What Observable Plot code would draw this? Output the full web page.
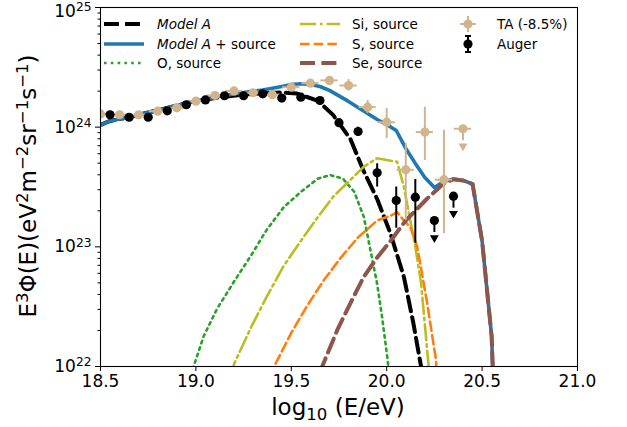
<!DOCTYPE html>
<html><head><meta charset="utf-8">
<script src="https://cdn.jsdelivr.net/npm/d3@7"></script>
<script src="https://cdn.jsdelivr.net/npm/@observablehq/plot@0.6"></script>
<style>
body{margin:0;background:#fff;}
#chart{position:relative;width:627px;height:427px;font-family:"DejaVu Sans",sans-serif;}
</style></head><body><div id="chart"></div>
<script>
// ---- model curves: log10(E/eV) and E^3 Phi(E) ----
const modelA_E = [18.5, 18.55, 18.65, 18.75, 18.85, 18.95, 19.05, 19.15, 19.25, 19.35, 19.45, 19.53, 19.64, 19.72, 19.81, 19.88, 19.95, 20.02, 20.09, 20.14, 20.18, 20.22];
const modelA_J = [1.042e24, 1.127e24, 1.211e24, 1.327e24, 1.445e24, 1.592e24, 1.706e24, 1.799e24, 1.871e24, 1.919e24, 1.95e24, 1.91e24, 1.66e24, 1.26e24, 7.94e23, 4.27e23, 2.51e23, 1.29e23, 5.62e22, 2.29e22, 1.0e22, 4.0e21];

const total_E = [18.5, 18.55, 18.65, 18.75, 18.85, 18.95, 19.05, 19.15, 19.25, 19.35, 19.45, 19.5, 19.55, 19.6, 19.65, 19.7, 19.75, 19.8, 19.85, 19.9, 19.95, 20.0, 20.05, 20.1, 20.15, 20.2, 20.25, 20.3, 20.35, 20.4, 20.45, 20.5, 20.55, 20.6];
const total_J = [1.042e24, 1.127e24, 1.211e24, 1.327e24, 1.445e24, 1.592e24, 1.722e24, 1.841e24, 1.950e24, 2.046e24, 2.188e24, 2.275e24, 2.307e24, 2.275e24, 2.188e24, 2.028e24, 1.824e24, 1.641e24, 1.462e24, 1.300e24, 1.159e24, 1.054e24, 9.38e23, 6.64e23, 4.98e23, 3.80e23, 3.13e23, 3.52e23, 3.69e23, 3.59e23, 3.35e23, 1.12e23, 1.78e22, 1e20];

const O_E = [18.95, 18.99, 19.04, 19.11, 19.2, 19.29, 19.37, 19.46, 19.55, 19.64, 19.705, 19.77, 19.83, 19.88, 19.915, 19.95, 19.976, 20.003, 20.03];
const O_J = [5.0e21, 1.02e22, 1.78e22, 3.02e22, 5.13e22, 8.51e22, 1.38e23, 2.14e23, 2.88e23, 3.72e23, 3.98e23, 3.72e23, 2.88e23, 1.78e23, 9.33e22, 4.90e22, 2.57e22, 1.20e22, 5.0e21];

const Si_E = [19.15, 19.2, 19.29, 19.37, 19.46, 19.55, 19.64, 19.72, 19.81, 19.88, 19.95, 20.055, 20.09, 20.12, 20.15, 20.18, 20.2, 20.22, 20.24];
const Si_J = [5.0e21, 1.05e22, 2.14e22, 3.80e22, 6.92e22, 1.12e23, 1.78e23, 2.63e23, 3.63e23, 4.68e23, 5.50e23, 5.13e23, 3.16e23, 1.78e23, 1.0e23, 5.0e22, 2.24e22, 1.0e22, 5.0e21];

const S_E = [19.35, 19.41, 19.5, 19.58, 19.67, 19.76, 19.85, 19.95, 20.02, 20.055, 20.09, 20.125, 20.16, 20.21, 20.256, 20.28];
const S_J = [5.0e21, 1.0e22, 1.91e22, 3.16e22, 5.25e22, 8.13e22, 1.20e23, 1.66e23, 1.82e23, 1.95e23, 1.66e23, 1.45e23, 1.0e23, 3.55e22, 1.20e22, 5.0e21];

const Se_E = [19.6, 19.662, 19.74, 19.81, 19.88, 19.95, 20.02, 20.1, 20.21, 20.3, 20.35, 20.4, 20.45, 20.5, 20.55, 20.6];
const Se_J = [4.0e21, 1.0e22, 2.0e22, 3.39e22, 5.62e22, 8.13e22, 1.12e23, 1.66e23, 2.51e23, 3.39e23, 3.67e23, 3.59e23, 3.35e23, 1.12e23, 1.78e22, 1e20];

// ---- data points ----
const auger_E  = [18.55, 18.65, 18.75, 18.85, 18.95, 19.05, 19.15, 19.25, 19.35, 19.45, 19.55, 19.65, 19.75, 19.85, 19.95, 20.05, 20.15, 20.25, 20.35];
const auger_J  = [1.27e24, 1.21e24, 1.21e24, 1.37e24, 1.54e24, 1.69e24, 1.83e24, 1.83e24, 1.90e24, 1.75e24, 1.78e24, 1.67e24, 1.09e24, 9.2e23, 4.16e23, 2.44e23, 2.6e23, 1.66e23, 2.65e23];
const auger_lo = [null, null, null, null, null, null, null, null, null, null, null, null, 1.04e24, 8.4e23, 3.16e23, 1.43e23, 1.07e23, null, null];
const auger_hi = [null, null, null, null, null, null, null, null, null, null, null, null, 1.14e24, 1.0e24, 4.94e23, 3.16e23, 3.66e23, null, null];
const auger_UL = [false, false, false, false, false, false, false, false, false, false, false, false, false, false, false, false, false, true, true];

const ta_E  = [18.5, 18.6, 18.7, 18.8, 18.9, 19.0, 19.1, 19.2, 19.3, 19.4, 19.5, 19.6, 19.7, 19.8, 19.9, 20.0, 20.1, 20.2, 20.3, 20.4];
const ta_J  = [1.29e24, 1.27e24, 1.27e24, 1.36e24, 1.45e24, 1.65e24, 1.84e24, 2.01e24, 1.94e24, 1.87e24, 2.16e24, 2.33e24, 2.46e24, 2.23e24, 1.47e24, 1.10e24, 4.4e23, 9.1e23, 3.64e23, 9.7e23];
const ta_lo = [null, null, null, null, null, null, null, null, null, null, 2.06e24, 2.2e24, 2.3e24, 2.0e24, 1.30e24, 8.05e23, 1.66e23, 5.27e23, 1.29e23, null];
const ta_hi = [null, null, null, null, null, null, null, null, null, null, 2.27e24, 2.45e24, 2.65e24, 2.5e24, 1.67e24, 1.43e24, 7.3e23, 1.47e24, 9.4e23, null];
const ta_UL = [false, false, false, false, false, false, false, false, false, false, false, false, false, false, false, false, false, false, false, true];
const ta_dE = 0.045;

// ---- axes ----
const xTicks = [18.5, 19.0, 19.5, 20.0, 20.5, 21.0];
const yMajor = [1e22, 1e23, 1e24, 1e25];
const yMinor = [22, 23, 24].flatMap(k => [2,3,4,5,6,7,8,9].map(m => m * 10 ** k));

const C = {black:"#000000", blue:"#1f77b4", green:"#2ca02c", olive:"#bcbd22", orange:"#ff7f0e", brown:"#8c564b", tan:"#d2b48c"};

const rows = (E, J) => E.map((e, i) => ({E: e, J: J[i]}));
const auger = auger_E.map((e, i) => ({E: e, J: auger_J[i], lo: auger_lo[i], hi: auger_hi[i], ul: auger_UL[i]}));
const ta = ta_E.map((e, i) => ({E: e, J: ta_J[i], lo: ta_lo[i], hi: ta_hi[i], ul: ta_UL[i]}));
const ulShaft = 10 ** 0.1, ulHead = 10 ** 0.095;

const triDown = {draw(ctx, size) {
  const y = Math.sqrt(size / (Math.sqrt(3) * 3));
  ctx.moveTo(0, 2 * y);
  ctx.lineTo(-Math.sqrt(3) * y, -y);
  ctx.lineTo(Math.sqrt(3) * y, -y);
  ctx.closePath();
}};

const plot = Plot.plot({
  width: 627, height: 427,
  marginLeft: 100, marginRight: 50, marginTop: 7, marginBottom: 61,
  style: {fontFamily: "DejaVu Sans", fontSize: "17px", color: "#000", background: "#fff"},
  x: {domain: [18.5, 21.0], label: null},
  y: {type: "log", domain: [1e22, 1e25], label: null},
  marks: [
    Plot.axisX({ticks: xTicks, tickFormat: d => d.toFixed(1), tickSize: 5, tickPadding: 3, label: null, fontSize: 17}),
    Plot.axisY({ticks: yMajor, tickFormat: d => "10^" + Math.round(Math.log10(d)), tickSize: 5, tickPadding: 4, label: null, fontSize: 17}),
    Plot.axisY({ticks: yMinor, tickFormat: () => "", tickSize: 2.5, label: null}),
    Plot.line(rows(modelA_E, modelA_J), {x: "E", y: "J", stroke: C.black, strokeWidth: 4, strokeDasharray: "15,6", clip: true}),
    Plot.line(rows(total_E, total_J), {x: "E", y: "J", stroke: C.blue, strokeWidth: 3.6, clip: true}),
    Plot.line(rows(O_E, O_J), {x: "E", y: "J", stroke: C.green, strokeWidth: 2.6, strokeDasharray: "2.6,4.2", clip: true}),
    Plot.line(rows(Si_E, Si_J), {x: "E", y: "J", stroke: C.olive, strokeWidth: 2.6, strokeDasharray: "16,4,2.6,4", clip: true}),
    Plot.line(rows(S_E, S_J), {x: "E", y: "J", stroke: C.orange, strokeWidth: 2.6, strokeDasharray: "9.5,4.2", clip: true}),
    Plot.line(rows(Se_E, Se_J), {x: "E", y: "J", stroke: C.brown, strokeWidth: 4, strokeDasharray: "15,6.4", clip: true}),
    // TA
    Plot.ruleY(ta, {y: "J", x1: d => d.E - ta_dE, x2: d => d.E + ta_dE, stroke: C.tan, strokeWidth: 2, clip: true}),
    Plot.ruleX(ta.filter(d => d.lo != null), {x: "E", y1: "lo", y2: "hi", stroke: C.tan, strokeWidth: 2, clip: true}),
    Plot.ruleX(ta.filter(d => d.ul), {x: "E", y1: "J", y2: d => d.J / ulShaft, stroke: C.tan, strokeWidth: 2, clip: true}),
    Plot.dot(ta.filter(d => d.ul), {x: "E", y: d => d.J / ulHead / 1.12, symbol: triDown, r: 3.3, fill: C.tan, stroke: null, clip: true}),
    Plot.dot(ta, {x: "E", y: "J", r: 4.6, fill: C.tan, stroke: null, clip: true}),
    // Auger
    Plot.ruleX(auger.filter(d => d.lo != null), {x: "E", y1: "lo", y2: "hi", stroke: C.black, strokeWidth: 2, clip: true}),
    Plot.ruleX(auger.filter(d => d.ul), {x: "E", y1: "J", y2: d => d.J / ulShaft, stroke: C.black, strokeWidth: 2, clip: true}),
    Plot.dot(auger.filter(d => d.ul), {x: "E", y: d => d.J / ulHead / 1.12, symbol: triDown, r: 3.3, fill: C.black, stroke: null, clip: true}),
    Plot.dot(auger, {x: "E", y: "J", r: 4.6, fill: C.black, stroke: null, clip: true}),
    Plot.frame({stroke: "#000", strokeWidth: 1.1})
  ]
});
document.getElementById("chart").appendChild(plot);

const svg = d3.select(plot);

// rich text helper (sup/sub/italic)
function rich(textSel, parts, size) {
  let off = 0;
  parts.forEach(([t, mode]) => {
    const ts = textSel.append("tspan").text(t);
    let target = 0, fs = size;
    if (mode === "sup") { target = -0.34 * size; fs = 0.72 * size; }
    if (mode === "sub") { target = 0.22 * size; fs = 0.72 * size; }
    if (mode === "it") ts.attr("font-style", "italic");
    ts.attr("font-size", fs);
    if (target !== off) { ts.attr("dy", target - off); off = target; }
  });
}

// y tick labels as 10^k with superscripts
svg.selectAll('g[aria-label="y-axis tick label"] text').each(function() {
  const s = d3.select(this);
  const t = s.text();
  if (!t.includes("^")) return;
  const [b, e] = t.split("^");
  s.text("");
  rich(s, [[b, ""], [e, "sup"]], 17);
  if (e === "25") s.attr("transform", function() { return (s.attr("transform") || "") + " translate(0,4)"; });
});

// axis labels
const yl = svg.append("text")
  .attr("transform", "translate(36,186) rotate(-90)")
  .attr("text-anchor", "middle").attr("font-size", 23).attr("fill", "#000");
rich(yl, [["E", ""], ["3", "sup"], ["Φ(E)(eV", ""], ["2", "sup"], ["m", ""], ["−2", "sup"], ["sr", ""], ["−1", "sup"], ["s", ""], ["−1", "sup"], [")", ""]], 23);

const xl = svg.append("text")
  .attr("x", 338).attr("y", 415)
  .attr("text-anchor", "middle").attr("font-size", 23).attr("fill", "#000");
rich(xl, [["log", ""], ["10", "sub"], [" (E/eV)", ""]], 23);

// legend (inside the axes)
const lg = svg.append("g").attr("font-size", 13.5).attr("fill", "#000").attr("text-anchor", "start");
const rowsY = [24, 44, 63];
const lineItems = [
  {x0: 104, x1: 144, tx: 157, y: rowsY[0], stroke: C.black, w: 4, dash: "15,6", label: [["Model A", "it"]]},
  {x0: 104, x1: 144, tx: 157, y: rowsY[1], stroke: C.blue, w: 3.6, dash: null, label: [["Model A", "it"], [" + source", ""]]},
  {x0: 104, x1: 144, tx: 157, y: rowsY[2], stroke: C.green, w: 2.6, dash: "2.6,4.2", label: [["O, source", ""]]},
  {x0: 300, x1: 340, tx: 352, y: rowsY[0], stroke: C.olive, w: 2.6, dash: "16,4,2.6,4", label: [["Si, source", ""]]},
  {x0: 300, x1: 340, tx: 352, y: rowsY[1], stroke: C.orange, w: 2.6, dash: "9.5,4.2", label: [["S, source", ""]]},
  {x0: 300, x1: 340, tx: 352, y: rowsY[2], stroke: C.brown, w: 4, dash: "15,6.4", label: [["Se, source", ""]]}
];
lineItems.forEach(it => {
  const l = lg.append("line").attr("x1", it.x0).attr("x2", it.x1).attr("y1", it.y).attr("y2", it.y)
    .attr("stroke", it.stroke).attr("stroke-width", it.w);
  if (it.dash) l.attr("stroke-dasharray", it.dash);
  const t = lg.append("text").attr("x", it.tx).attr("y", it.y + 5).attr("text-anchor", "start");
  rich(t, it.label, 13.5);
});
// TA marker
const mx = 468;
lg.append("line").attr("x1", mx - 8).attr("x2", mx + 8).attr("y1", rowsY[0]).attr("y2", rowsY[0]).attr("stroke", C.tan).attr("stroke-width", 2);
lg.append("line").attr("x1", mx).attr("x2", mx).attr("y1", rowsY[0] - 8).attr("y2", rowsY[0] + 8).attr("stroke", C.tan).attr("stroke-width", 2);
lg.append("circle").attr("cx", mx).attr("cy", rowsY[0]).attr("r", 4.6).attr("fill", C.tan);
lg.append("text").attr("x", 497).attr("y", rowsY[0] + 5).attr("text-anchor", "start").text("TA (-8.5%)");
// Auger marker
lg.append("line").attr("x1", mx).attr("x2", mx).attr("y1", rowsY[1] - 8).attr("y2", rowsY[1] + 8).attr("stroke", "#000").attr("stroke-width", 2);
lg.append("line").attr("x1", mx - 3).attr("x2", mx + 3).attr("y1", rowsY[1] - 8).attr("y2", rowsY[1] - 8).attr("stroke", "#000").attr("stroke-width", 2);
lg.append("line").attr("x1", mx - 3).attr("x2", mx + 3).attr("y1", rowsY[1] + 8).attr("y2", rowsY[1] + 8).attr("stroke", "#000").attr("stroke-width", 2);
lg.append("circle").attr("cx", mx).attr("cy", rowsY[1]).attr("r", 4.6).attr("fill", "#000");
lg.append("text").attr("x", 497).attr("y", rowsY[1] + 5).attr("text-anchor", "start").text("Auger");
</script></body></html>
